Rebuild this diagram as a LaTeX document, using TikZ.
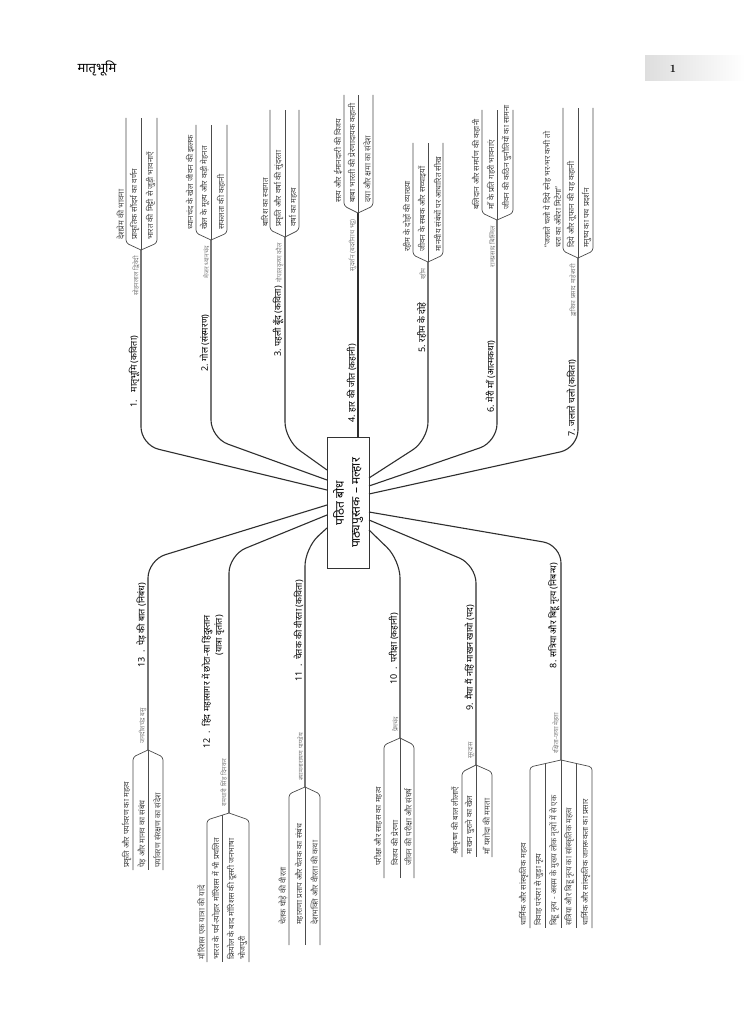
\documentclass[tikz,border=0pt]{standalone}
\usepackage{fontspec}
\newfontfamily\deva[Script=Devanagari]{Noto Sans}
\begin{document}
\begin{tikzpicture}[x=1pt,y=-1pt,
 ttl/.style={rotate=90,inner sep=0pt,align=right,font=\deva\bfseries\fontsize{9}{12}\selectfont,text=black},
 itm/.style={rotate=90,inner sep=0pt,align=left,font=\deva\fontsize{8}{11}\selectfont,text=black!72},
 aut/.style={rotate=90,inner sep=0pt,font=\deva\fontsize{6.5}{8}\selectfont,text=black!50},
 conn/.style={draw=black!82,line width=1.1pt,rounded corners=18pt},
 sub/.style={draw=black!70,line width=0.7pt,rounded corners=3pt}]
\useasboundingbox (0,0) rectangle (745,1024);
\fill[white] (0,0) rectangle (745,1024);
% header
\node[font=\deva\fontsize{13}{15}\selectfont,anchor=west] (hdr) at (74,68) {मातृभूमि};
\shade[left color=black!13,right color=white] (645,56) rectangle (745,81);
\node[font=\bfseries\fontsize{11}{13}\selectfont] (pg) at (673,68.5) {1};
% center
\node[draw=black!80,line width=0.8pt,rotate=90,minimum width=131pt,minimum height=42pt,align=center,inner sep=2pt,font=\deva\fontsize{12}{16}\selectfont] (center) at (348,503) {पठित बोध\\पाठ्यपुस्तक – मल्हार};
% anchors on the centre box
\coordinate (L3) at (327,470); \coordinate (L2) at (327,480); \coordinate (L1) at (327,490);
\coordinate (L13) at (327,505); \coordinate (L12) at (327,515); \coordinate (L11) at (327,528);
\coordinate (T4) at (358,438);
\coordinate (R5) at (369,478); \coordinate (R6) at (369,486); \coordinate (R7) at (369,494);
\coordinate (R8) at (369,512); \coordinate (R9) at (369,520); \coordinate (R10) at (369,530);

% ---------- branch 1
\coordinate (F1) at (141,250); \coordinate (K1) at (141,445);
\draw[conn] (L1) -- (K1) -- (F1);
\draw[sub] (F1) -- (126,243) -- (126,118);
\draw[sub] (F1) -- (141,118);
\draw[sub] (F1) -- (157,243) -- (157,118);
\node[itm,anchor=south west] (i1a) at (124.5,240) {देशप्रेम की भावना};
\node[itm,anchor=south west] (i1b) at (139.5,240) {प्राकृतिक सौंदर्य का वर्णन};
\node[itm,anchor=south west] (i1c) at (155.5,240) {भारत की मिट्टी से जुड़ी भावनाएँ};
\node[aut,anchor=south east] (a1) at (139.5,256) {सोहनलाल द्विवेदी};
\node[ttl,anchor=south west] (t1) at (139.5,408) {1.\hspace{8pt}मातृभूमि (कविता)};

% ---------- branch 2
\coordinate (F2) at (211,240); \coordinate (K2) at (211,438);
\draw[conn] (L2) -- (K2) -- (F2);
\draw[sub] (F2) -- (196,233) -- (196,125);
\draw[sub] (F2) -- (211,125);
\draw[sub] (F2) -- (227,233) -- (227,125);
\node[itm,anchor=south west] (i2a) at (194.5,230) {ध्यानचंद के खेल जीवन की झलक};
\node[itm,anchor=south west] (i2b) at (209.5,230) {खेल के मूल्य और कड़ी मेहनत};
\node[itm,anchor=south west] (i2c) at (225.5,230) {सफलता की कहानी};
\node[aut,anchor=south east] (a2) at (209.5,246) {मेजर ध्यानचंद};
\node[ttl,anchor=south west] (t2) at (209.5,372) {2. गोल (संस्मरण)};

% ---------- branch 3
\coordinate (F3) at (285,237); \coordinate (K3) at (285,440);
\draw[conn] (L3) -- (K3) -- (F3);
\draw[sub] (F3) -- (270,230) -- (270,110);
\draw[sub] (F3) -- (285,110);
\draw[sub] (F3) -- (299,230) -- (299,110);
\node[itm,anchor=south west] (i3a) at (268.5,227) {बारिश का स्वागत};
\node[itm,anchor=south west] (i3b) at (283.5,227) {प्रकृति और वर्षा की सुंदरता};
\node[itm,anchor=south west] (i3c) at (297.5,227) {वर्षा का महत्व};
\node[aut,anchor=south east] (a3) at (283.5,243) {गोपालकृष्ण कौल};
\node[ttl,anchor=south west] (t3) at (283.5,357) {3. पहली बूँद (कविता)};

% ---------- branch 4
\coordinate (F4) at (358,213);
\draw[conn] (T4) -- (F4);
\draw[sub] (F4) -- (344,206) -- (344,95);
\draw[sub] (F4) -- (358,95);
\draw[sub] (F4) -- (373,206) -- (373,95);
\node[itm,anchor=south west] (i4a) at (342.5,203) {सत्य और ईमानदारी की विजय};
\node[itm,anchor=south west] (i4b) at (356.5,203) {बाबा भारती की प्रेरणादायक कहानी};
\node[itm,anchor=south west] (i4c) at (371.5,203) {दया और क्षमा का संदेश};
\node[aut,anchor=south east] (a4) at (356.5,219) {सुदर्शन (बदरीनाथ भट्ट)};
\node[ttl,anchor=south west] (t4) at (356.5,423) {4. हार की जीत (कहानी)};

% ---------- branch 5
\coordinate (F5) at (428,262); \coordinate (K5) at (428,440);
\draw[conn] (R5) -- (K5) -- (F5);
\draw[sub] (F5) -- (413,255) -- (413,143);
\draw[sub] (F5) -- (428,143);
\draw[sub] (F5) -- (443,255) -- (443,143);
\node[itm,anchor=south west] (i5a) at (411.5,252) {रहीम के दोहों की व्याख्या};
\node[itm,anchor=south west] (i5b) at (426.5,252) {जीवन के सबक और सच्चाइयाँ};
\node[itm,anchor=south west] (i5c) at (441.5,252) {मानवीय संबंधों पर आधारित सीख};
\node[aut,anchor=south east] (a5) at (426.5,268) {रहीम};
\node[ttl,anchor=south west] (t5) at (426.5,353) {5. रहीम के दोहे};

% ---------- branch 6
\coordinate (F6) at (497,220); \coordinate (K6) at (497,442);
\draw[conn] (R6) -- (K6) -- (F6);
\draw[sub] (F6) -- (482,213) -- (482,110);
\draw[sub] (F6) -- (497,110);
\draw[sub] (F6) -- (513,213) -- (513,110);
\node[itm,anchor=south west] (i6a) at (480.5,210) {बलिदान और समर्पण की कहानी};
\node[itm,anchor=south west] (i6b) at (495.5,210) {माँ के प्रति गहरी भावनाएं};
\node[itm,anchor=south west] (i6c) at (511.5,210) {जीवन की कठिन चुनौतियों का सामना};
\node[aut,anchor=south east] (a6) at (495.5,226) {रामप्रसाद बिस्मिल};
\node[ttl,anchor=south west] (t6) at (495.5,413) {6. मेरी माँ (आत्मकथा)};

% ---------- branch 7
\coordinate (F7) at (578,258); \coordinate (K7) at (578,448);
\draw[conn] (R7) -- (K7) -- (F7);
\draw[sub] (F7) -- (563,251) -- (563,108);
\draw[sub] (F7) -- (578,108);
\draw[sub] (F7) -- (593,251) -- (593,108);
\node[itm,anchor=south west] (i7a) at (561.5,248) {“जलाते चलो ये दिये स्नेह भर-भर कभी तो\\धरा का अँधेरा मिटेगा”};
\node[itm,anchor=south west] (i7b) at (576.5,248) {दिये और तूफान की यह कहानी};
\node[itm,anchor=south west] (i7c) at (591.5,248) {मनुष्य का पथ प्रदर्शन};
\node[aut,anchor=south east] (a7) at (576.5,264) {द्वारिका प्रसाद माहेश्वरी};
\node[ttl,anchor=south west] (t7) at (576.5,437) {7. जलाते चलो (कविता)};

% ---------- branch 8
\coordinate (F8) at (561,760); \coordinate (K8) at (561,545);
\draw[conn] (R8) -- (K8) -- (F8);
\draw[sub] (F8) -- (530,767) -- (530,928);
\draw[sub] (545,763.6) -- (545,928);
\draw[sub] (F8) -- (561,928);
\draw[sub] (576,763.4) -- (576,928);
\draw[sub] (F8) -- (592,767) -- (592,928);
\node[itm,anchor=south west] (i8a) at (528.5,926) {धार्मिक और सांस्कृतिक महत्व};
\node[itm,anchor=south west] (i8b) at (543.5,926) {विवाह परंपरा से जुड़ा नृत्य};
\node[itm,anchor=south west] (i8c) at (559.5,926) {बिहू नृत्य - असम के मुख्य लोक नृत्यों में से एक};
\node[itm,anchor=south west] (i8d) at (574.5,926) {सत्रिया और बिहू नृत्य का सांस्कृतिक महत्व};
\node[itm,anchor=south west] (i8e) at (590.5,926) {धार्मिक और सांस्कृतिक जागरूकता का प्रसार};
\node[aut,anchor=south west] (a8) at (559.5,754) {रक्षिता-जया मेहता};
\node[ttl,anchor=south east] (t8) at (559.5,563) {8. सत्रिया और बिहू नृत्य (निबन्ध)};

% ---------- branch 9
\coordinate (F9) at (476,765); \coordinate (K9) at (476,565);
\draw[conn] (R9) -- (K9) -- (F9);
\draw[sub] (F9) -- (462,772) -- (462,857);
\draw[sub] (F9) -- (476,857);
\draw[sub] (F9) -- (492,772) -- (492,857);
\node[itm,anchor=south west] (i9a) at (460.5,855) {श्रीकृष्ण की बाल लीलाएँ};
\node[itm,anchor=south west] (i9b) at (474.5,855) {माखन चुराने का खेल};
\node[itm,anchor=south west] (i9c) at (490.5,855) {माँ यशोदा की ममता};
\node[aut,anchor=south west] (a9) at (474.5,759) {सूरदास};
\node[ttl,anchor=south east] (t9) at (474.5,605) {9. मैया मैं नहिं माखन खायो (पद)};

% ---------- branch 10
\coordinate (F10) at (400,738); \coordinate (K10) at (400,560);
\draw[conn] (R10) -- (K10) -- (F10);
\draw[sub] (F10) -- (384,745) -- (384,878);
\draw[sub] (F10) -- (400,878);
\draw[sub] (F10) -- (414,745) -- (414,878);
\node[itm,anchor=south west] (i10a) at (382.5,866) {परीक्षा और साहस का महत्व};
\node[itm,anchor=south west] (i10b) at (398.5,866) {विजय की प्रेरणा};
\node[itm,anchor=south west] (i10c) at (412.5,866) {जीवन की परीक्षा और संघर्ष};
\node[aut,anchor=south west] (a10) at (398.5,732) {प्रेमचंद};
\node[ttl,anchor=south east] (t10) at (398.5,613) {10\ \ .\ \ परीक्षा (कहानी)};

% ---------- branch 11
\coordinate (F11) at (305,787); \coordinate (K11) at (305,548);
\draw[conn] (L11) -- (K11) -- (F11);
\draw[sub] (F11) -- (289,794) -- (289,945);
\draw[sub] (F11) -- (305,945);
\draw[sub] (F11) -- (320,794) -- (320,945);
\node[itm,anchor=south west] (i11a) at (287.5,925) {चेतक घोड़े की वीरता};
\node[itm,anchor=south west] (i11b) at (303.5,925) {महाराणा प्रताप और चेतक का संबंध};
\node[itm,anchor=south west] (i11c) at (318.5,925) {देशभक्ति और वीरता की कथा};
\node[aut,anchor=south west] (a11) at (303.5,781) {श्यामनारायण पाण्डेय};
\node[ttl,anchor=south east] (t11) at (303.5,580) {11\ \ .\ \ चेतक की वीरता (कविता)};

% ---------- branch 12
\coordinate (F12) at (229,813); \coordinate (K12) at (229,555);
\draw[conn] (L12) -- (K12) -- (F12);
\draw[sub] (F12) -- (207,820) -- (207,962);
\draw[sub] (222,815.2) -- (222,962);
\draw[sub] (F12) -- (249,820) -- (249,962);
\node[itm,anchor=south west] (i12a) at (205.5,960) {मॉरिशस एक यात्रा की यादें};
\node[itm,anchor=south west] (i12b) at (220.5,960) {भारत के पर्व-त्योहार मॉरिशस में भी प्रचलित};
\node[itm,anchor=south west] (i12c) at (247.5,960) {क्रियोल के बाद मॉरिशस की दूसरी जनभाषा\\भोजपुरी};
\node[aut,anchor=south west] (a12) at (227.5,807) {रामधारी सिंह दिनकर};
\node[ttl,anchor=south east] (t12) at (224.5,615) {12\ \ .\ \ हिंद महासागर में छोटा-सा हिंदुस्तान\\(यात्रा वृतांत)};

% ---------- branch 13
\coordinate (F13) at (148,750); \coordinate (K13) at (148,560);
\draw[conn] (L13) -- (K13) -- (F13);
\draw[sub] (F13) -- (133,757) -- (133,870);
\draw[sub] (F13) -- (148,870);
\draw[sub] (F13) -- (163,757) -- (163,870);
\node[itm,anchor=south west] (i13a) at (131.5,868) {प्रकृति और पर्यावरण का महत्व};
\node[itm,anchor=south west] (i13b) at (146.5,868) {पेड़ और मानव का संबंध};
\node[itm,anchor=south west] (i13c) at (161.5,868) {पर्यावरण संरक्षण का संदेश};
\node[aut,anchor=south west] (a13) at (146.5,744) {जगदीशचंद्र बसु};
\node[ttl,anchor=south east] (t13) at (146.5,583) {13\ \ .\ \ पेड़ की बात (निबंध)};
\end{tikzpicture}
\end{document}
